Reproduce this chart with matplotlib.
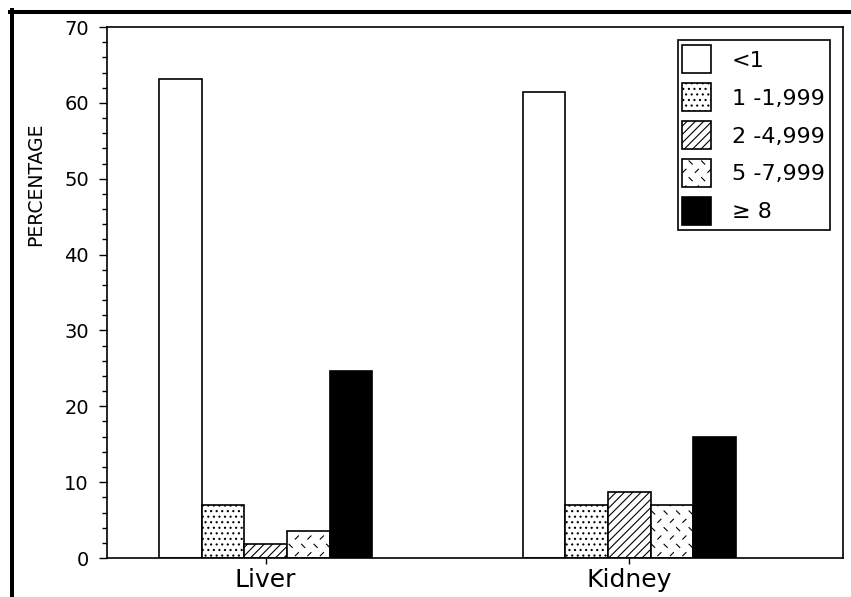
import warnings
import numpy as np
import matplotlib
matplotlib.use('Agg')
import matplotlib.pyplot as plt
from matplotlib import hatch as mhatch
from matplotlib.path import Path
from matplotlib.lines import Line2D
from matplotlib.ticker import MultipleLocator

warnings.filterwarnings('ignore')

# values (percentage per class, per organ)
organs = ['Liver', 'Kidney']
classes = ['<1', '1 -1,999', '2 -4,999', '5 -7,999', '\u2265 8']
liver = [63.1, 7.0, 1.8, 3.55, 24.6]
kidney = [61.5, 7.0, 8.7, 7.0, 15.9]

# bar styles, one per class
faces = ['white', 'white', 'white', 'white', 'black']
hatches = [None, '...', '////', 'd', None]


class DashHatch(mhatch.HatchPatternBase):
    # short dashes in staggered rows, for the 5 -7,999 class
    def __init__(self, hatch, density):
        n = hatch.count('d')
        self.cols = int(n * density * 4 / 3)
        self.rows = int(n * density * 2)
        self.num_vertices = 2 * self.cols * self.rows

    def set_vertices_and_codes(self, vertices, codes):
        d = 0.016
        k = 0
        for r in range(self.rows):
            y = (r + 0.5) / self.rows
            odd = r % 2
            shift = 0.5 * odd
            s = 1 if odd else -1  # alternate "\" and "/" rows
            for c in range(self.cols):
                x = (c + 0.25 + shift) / self.cols
                vertices[k] = (x - d, y - s * d)
                vertices[k + 1] = (x + d, y + s * d)
                codes[k] = Path.MOVETO
                codes[k + 1] = Path.LINETO
                k += 2


mhatch._hatch_types.append(DashHatch)

plt.rcParams['font.family'] = 'DejaVu Sans'
plt.rcParams['hatch.linewidth'] = 0.8

fig = plt.figure(figsize=(8.51, 5.97), dpi=100)
ax = fig.add_axes([0.1257, 0.0653, 0.8649, 0.8894])

values = np.array([liver, kidney])
x = np.arange(len(organs))
width = 0.1173
for i, cls in enumerate(classes):
    ax.bar(x + (i - 2) * width, values[:, i], width, color=faces[i],
           edgecolor='black', linewidth=1.2, hatch=hatches[i], label=cls)

ax.set_xlim(-0.436, 1.587)
ax.set_ylim(0, 70)
ax.set_xticks(x)
ax.set_xticklabels(organs)
ax.yaxis.set_major_locator(MultipleLocator(10))
ax.yaxis.set_minor_locator(MultipleLocator(2))
ax.tick_params(axis='y', which='major', direction='out', length=6, width=1,
               labelsize=14, pad=7)
ax.tick_params(axis='y', which='minor', direction='out', length=3.6, width=1)
ax.tick_params(axis='x', direction='out', length=4.5, width=1,
               labelsize=18, pad=3)
for sp in ax.spines.values():
    sp.set_linewidth(1.2)

ax.set_ylabel('PERCENTAGE', fontsize=13.5)
ax.yaxis.set_label_coords(-0.084, 0.704)

leg = ax.legend(loc='upper right', fontsize=16, fancybox=False,
                edgecolor='black', framealpha=1, handlelength=1.27,
                handleheight=1.56, labelspacing=0.45, handletextpad=0.95,
                borderpad=0.22, borderaxespad=0.6)
leg.get_frame().set_linewidth(1.2)

# thick window frame on the left and top
fig.add_artist(Line2D([12 / 851, 12 / 851], [0, 1 - 10 / 597],
                      transform=fig.transFigure, color='black', lw=2.9))
fig.add_artist(Line2D([10 / 851, 1], [1 - 12 / 597, 1 - 12 / 597],
                      transform=fig.transFigure, color='black', lw=2.9))

fig.savefig('out.png', dpi=100)
